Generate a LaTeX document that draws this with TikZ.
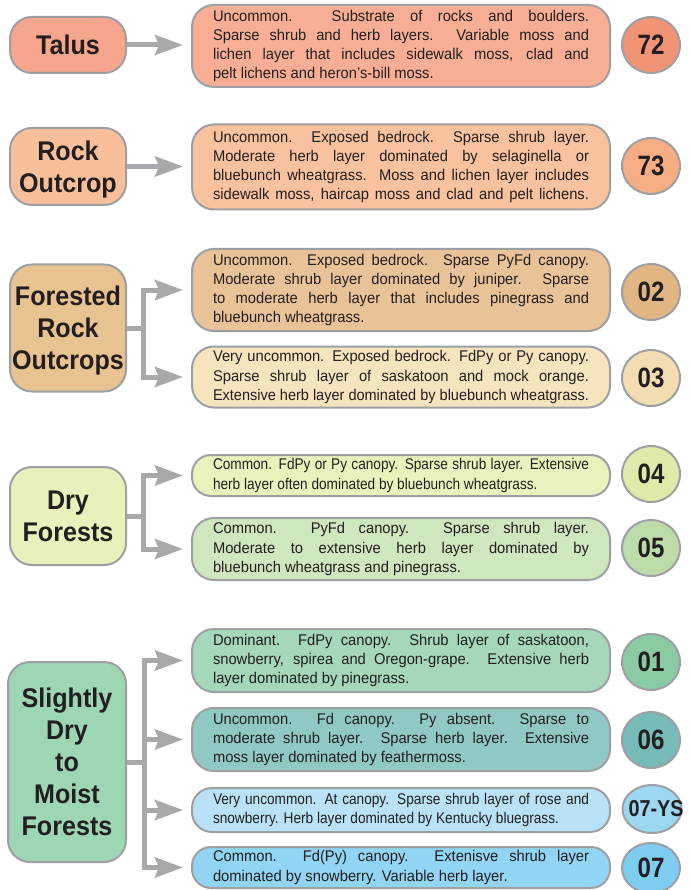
\documentclass[tikz,border=0pt]{standalone}
\usepackage{fontspec}
\usepackage{graphicx}
\setmainfont{Liberation Sans}[FakeStretch=0.95]
\newfontfamily\headfont{Liberation Sans}[FakeStretch=0.93]
\newfontfamily\numfont{Liberation Sans}[FakeStretch=0.86]
\newfontfamily\narrowbody{Liberation Sans}[FakeStretch=0.88]
\usetikzlibrary{arrows.meta,shapes.geometric,calc}

% palette
\definecolor{ink}{HTML}{231F20}
\definecolor{edge}{HTML}{9D9FA2}
\definecolor{linkgray}{HTML}{A7A9AC}
\definecolor{talusL}{HTML}{F6A68C}
\definecolor{b72}{HTML}{F7AE95}
\definecolor{c72}{HTML}{F19475}
\definecolor{rockL}{HTML}{F9BF9A}
\definecolor{b73}{HTML}{F9C29F}
\definecolor{c73}{HTML}{F6AD84}
\definecolor{froL}{HTML}{E8C291}
\definecolor{b02}{HTML}{E9C397}
\definecolor{c02}{HTML}{E2B682}
\definecolor{b03}{HTML}{F6E4BF}
\definecolor{c03}{HTML}{F2DDB3}
\definecolor{dryL}{HTML}{E8F1BC}
\definecolor{b04}{HTML}{E9F1BD}
\definecolor{c04}{HTML}{DFEAAA}
\definecolor{b05}{HTML}{CFE7BF}
\definecolor{c05}{HTML}{BCDCA9}
\definecolor{moistL}{HTML}{9DD6B3}
\definecolor{b01}{HTML}{A4D8B8}
\definecolor{c01}{HTML}{8BCBA3}
\definecolor{b06}{HTML}{90C8C5}
\definecolor{c06}{HTML}{76BBB7}
\definecolor{bys}{HTML}{B9E2F6}
\definecolor{cys}{HTML}{9CD6F1}
\definecolor{b07}{HTML}{91D4F3}
\definecolor{c07}{HTML}{7ECDF0}

% justified lines of fixed width
\newlength\bodyw \setlength\bodyw{376pt}
\newlength\natw
\newcommand\jfull[1]{\settowidth\natw{#1}%
  \ifdim\natw>\bodyw\resizebox{\bodyw}{\height}{#1}\else\makebox[\bodyw][s]{#1}\fi}
\newcommand\jend[1]{\settowidth\natw{#1}%
  \ifdim\natw>\bodyw\resizebox{\bodyw}{\height}{#1}\else\makebox[\bodyw][l]{#1}\fi}

\tikzset{
  side/.style={draw=edge, line width=2pt, rounded corners=22pt, minimum width=116pt,
    inner sep=0pt, align=center, text=ink, text depth=0pt,
    font=\headfont\bfseries\fontsize{27}{32}\selectfont},
  desc/.style={draw=edge, line width=2pt, rounded corners=22pt, align=left,
    inner xsep=21pt, inner ysep=0pt, text=ink,
    font=\fontsize{15.5}{19.2}\selectfont},
  narrowdesc/.style={desc, font=\narrowbody\fontsize{15.5}{19.2}\selectfont},
  num/.style={ellipse, draw=edge, line width=2pt, minimum width=58pt,
    minimum height=56pt, inner sep=0pt, text=ink,
    font=\numfont\bfseries\fontsize{28}{28}\selectfont},
  link/.style={draw=linkgray, line width=5pt, line join=miter,
    -{Stealth[length=28pt,width=20pt,inset=4pt]}, shorten >=8pt},
}

\begin{document}
\begin{tikzpicture}[x=1pt, y=-1pt]
\useasboundingbox (0,0) rectangle (689,890);
\fill[white] (0,0) rectangle (689,890);

% ---- group labels ----
\node[side, fill=talusL, minimum height=56pt] (talus) at (68,45) {Talus};
\node[side, fill=rockL, minimum height=77pt] (rock) at (68,166.5) {Rock\\Outcrop};
\node[side, fill=froL, minimum height=127pt] (fro) at (68,328) {Forested\\Rock\\Outcrops};
\node[side, fill=dryL, minimum height=98pt] (dry) at (68,516) {Dry\\Forests};
\node[side, fill=moistL, minimum height=200pt, minimum width=118pt] (moist) at (67,762)
  {Slightly\\Dry\\to\\Moist\\Forests};

% ---- descriptions ----
\node[desc, fill=b72, minimum height=82pt] (d72) at (401,46) {%
\jfull{Uncommon. Substrate of rocks and boulders.}\\
\jfull{Sparse shrub and herb layers. Variable moss and}\\
\jfull{lichen layer that includes sidewalk moss, clad and}\\
\jend{pelt lichens and heron’s-bill moss.}};

\node[desc, fill=b73, minimum height=85pt] (d73) at (401,167) {%
\jfull{Uncommon. Exposed bedrock. Sparse shrub layer.}\\
\jfull{Moderate herb layer dominated by selaginella or}\\
\jfull{bluebunch wheatgrass. Moss and lichen layer includes}\\
\jfull{sidewalk moss, haircap moss and clad and pelt lichens.}};

\node[desc, fill=b02, minimum height=82pt] (d02) at (401,290) {%
\jfull{Uncommon. Exposed bedrock. Sparse PyFd canopy.}\\
\jfull{Moderate shrub layer dominated by juniper. Sparse}\\
\jfull{to moderate herb layer that includes pinegrass and}\\
\jend{bluebunch wheatgrass.}};

\node[desc, fill=b03, minimum height=61pt] (d03) at (401,377) {%
\jfull{Very uncommon. Exposed bedrock. FdPy or Py canopy.}\\
\jfull{Sparse shrub layer of saskatoon and mock orange.}\\
\jend{Extensive herb layer dominated by bluebunch wheatgrass.}};

\node[narrowdesc, fill=b04, minimum height=41pt, rounded corners=19pt] (d04) at (401,475.5) {%
\jfull{Common. FdPy or Py canopy. Sparse shrub layer. Extensive}\\
\jend{herb layer often dominated by bluebunch wheatgrass.}};

\node[desc, fill=b05, minimum height=62pt] (d05) at (401,549) {%
\jfull{Common. PyFd canopy. Sparse shrub layer.}\\
\jfull{Moderate to extensive herb layer dominated by}\\
\jend{bluebunch wheatgrass and pinegrass.}};

\node[desc, fill=b01, minimum height=63pt] (d01) at (401,660.5) {%
\jfull{Dominant. FdPy canopy. Shrub layer of saskatoon,}\\
\jfull{snowberry, spirea and Oregon-grape. Extensive herb}\\
\jend{layer dominated by pinegrass.}};

\node[desc, fill=b06, minimum height=63pt] (d06) at (401,739.5) {%
\jfull{Uncommon. Fd canopy. Py absent. Sparse to}\\
\jfull{moderate shrub layer. Sparse herb layer. Extensive}\\
\jend{moss layer dominated by feathermoss.}};

\node[narrowdesc, fill=bys, minimum height=44pt, rounded corners=20pt] (dys) at (401,810) {%
\jfull{Very uncommon. At canopy. Sparse shrub layer of rose and}\\
\jend{snowberry. Herb layer dominated by Kentucky bluegrass.}};

\node[desc, fill=b07, minimum height=41pt, rounded corners=19pt] (d07) at (401,867.5) {%
\jfull{Common. Fd(Py) canopy. Extenisve shrub layer}\\
\jend{dominated by snowberry. Variable herb layer.}};

% ---- unit numbers ----
\node[num, fill=c72] (n72) at (651,45) {72};
\node[num, fill=c73] (n73) at (651,166) {73};
\node[num, fill=c02] (n02) at (651,292) {02};
\node[num, fill=c03] (n03) at (651,378) {03};
\node[num, fill=c04] (n04) at (651,474) {04};
\node[num, fill=c05] (n05) at (651,548) {05};
\node[num, fill=c01] (n01) at (651,662) {01};
\node[num, fill=c06] (n06) at (651,740) {06};
\node[num, fill=cys, minimum width=59pt, minimum height=48pt] (nys) at (652,809) {};
\node[text=ink, inner sep=0pt, font=\numfont\bfseries\fontsize{23}{23}\selectfont]
  (tys) at (656,809) {07-YS};
\node[num, fill=c07, minimum height=50pt] (n07) at (651,868) {07};

% ---- connectors ----
\draw[link] (talus.east) -- (talus.east -| d72.west);
\draw[link] (rock.east) -- (rock.east -| d73.west);

\coordinate (jf) at ($(fro.east)+(16,0)$);
\draw[link] (fro.east) -- (jf) |- (d02.west);
\draw[link] (jf) |- (d03.west);

\coordinate (jd) at ($(dry.east)+(16,0)$);
\draw[link] (dry.east) -- (jd) |- (d04.west);
\draw[link] (jd) |- (d05.west);

\coordinate (jm) at ($(moist.east)+(17,0)$);
\draw[link] (moist.east) -- (jm) |- (d01.west);
\draw[link] (jm) |- (d06.west);
\draw[link] (jm) |- (dys.west);
\draw[link] (jm) |- (d07.west);
\end{tikzpicture}
\end{document}
